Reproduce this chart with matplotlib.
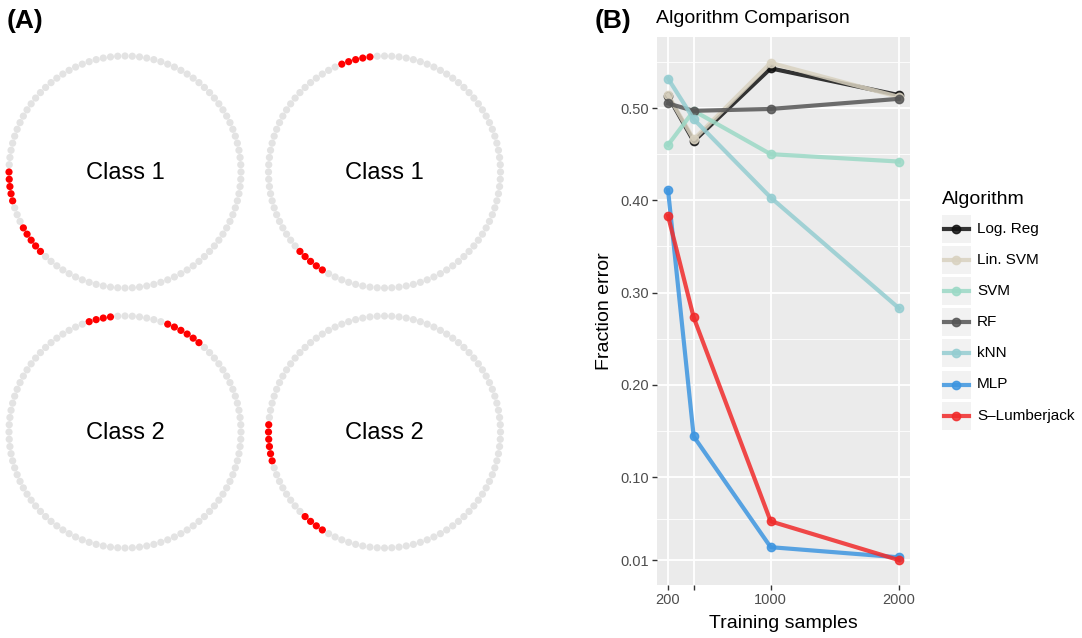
import numpy as np
import matplotlib
matplotlib.use("Agg")
import matplotlib.pyplot as plt
from matplotlib.lines import Line2D
from matplotlib.patches import Rectangle

plt.rcParams['font.family'] = ['Liberation Sans', 'DejaVu Sans']

# ---- panel A data: 100 points on a ring, red ones by index ----
n_dots = 100
class_labels = ['Class 1', 'Class 1', 'Class 2', 'Class 2']
red_idx = [
    list(range(50, 55)) + list(range(58, 63)),
    list(range(27, 32)) + list(range(62, 67)),
    list(range(14, 20)) + list(range(27, 31)),
    list(range(49, 55)) + list(range(63, 67)),
]

# ---- panel B data ----
samples = [200, 400, 1000, 2000]
algorithms = ['Log. Reg', 'Lin. SVM', 'SVM', 'RF', 'kNN', 'MLP', 'S\u2013Lumberjack']
err_logreg = [0.513, 0.464, 0.543, 0.514]
err_linsvm = [0.514, 0.466, 0.549, 0.512]
err_svm = [0.460, 0.497, 0.450, 0.442]
err_rf = [0.505, 0.497, 0.499, 0.510]
err_knn = [0.532, 0.488, 0.403, 0.283]
err_mlp = [0.411, 0.144, 0.024, 0.013]
err_lumber = [0.383, 0.273, 0.052, 0.010]
errors = [err_logreg, err_linsvm, err_svm, err_rf, err_knn, err_mlp, err_lumber]
colors = ['#111111', '#d9d2c0', '#9bd9c6', '#555555', '#94cdd1', '#3d95e0', '#f02a2a']
yticks = [0.01, 0.10, 0.20, 0.30, 0.40, 0.50]
ytick_labels = ['0.01', '0.10', '0.20', '0.30', '0.40', '0.50']
xtick_labels = ['200', '', '1000', '2000']

W, H = 1082, 638
fig = plt.figure(figsize=(W / 100, H / 100), dpi=100)

def px_axes(x0, y0, x1, y1):
    # pixel box (top-left origin) -> figure axes
    return fig.add_axes([x0 / W, 1 - y1 / H, (x1 - x0) / W, (y1 - y0) / H])

# ---------------- panel A ----------------
axA = px_axes(0, 0, 540, H)
axA.set_xlim(0, 540)
axA.set_ylim(H, 0)
axA.axis('off')
centres = [(125, 172), (384.5, 172), (125, 432), (384.5, 432)]
radius = 116
ang = np.deg2rad(np.arange(n_dots) * 360.0 / n_dots)
for (cx, cy), lab, reds in zip(centres, class_labels, red_idx):
    xs = cx + radius * np.cos(ang)
    ys = cy - radius * np.sin(ang)
    cols = ['#ff0000' if i in reds else '#e3e3e3' for i in range(n_dots)]
    axA.scatter(xs, ys, s=27, c=cols, linewidths=0)
    axA.text(cx, cy + 1, lab, ha='center', va='center', fontsize=17)

fig.text(7 / W, 1 - 21 / H, '(A)', fontsize=19, fontweight='bold', va='center')
fig.text(595 / W, 1 - 21 / H, '(B)', fontsize=19, fontweight='bold', va='center')

# ---------------- panel B ----------------
ax = px_axes(656.5, 37, 910.5, 585)
ax.set_facecolor('#ebebeb')
for s in ax.spines.values():
    s.set_visible(False)
ax.set_xlim(110, 2090)
ax.set_ylim(-0.017, 0.577)
ax.set_xticks(samples)
ax.set_xticklabels(xtick_labels)
ax.set_yticks(yticks)
ax.set_yticklabels(ytick_labels)
ax.set_yticks([0.055, 0.15, 0.25, 0.35, 0.45, 0.55], minor=True)
ax.grid(True, which='major', color='white', lw=1.3)
ax.grid(True, which='minor', axis='y', color='white', lw=0.6)
ax.tick_params(which='major', colors='#333333', length=3.5, width=1.0,
               labelsize=10.5, labelcolor='#4d4d4d', pad=2)
ax.tick_params(which='minor', length=0)
ax.set_axisbelow(True)
ax.set_xlabel('Training samples', fontsize=14, labelpad=6)
ax.set_ylabel('Fraction error', fontsize=14, labelpad=5)
ax.set_title('Algorithm Comparison', fontsize=14, loc='left', pad=10)

for name, vals, c in zip(algorithms, errors, colors):
    ax.plot(samples, vals, color=c, lw=3, alpha=0.85, marker='o', ms=6,
            solid_joinstyle='round', label=name)

# ggplot-like legend drawn in figure pixel space
axL = px_axes(935, 180, 1082, 440)
axL.set_xlim(935, 1082)
axL.set_ylim(440, 180)
axL.axis('off')
axL.text(942, 200, 'Algorithm', fontsize=14, va='center', ha='left')
for i, (name, c) in enumerate(zip(algorithms, colors)):
    yc = 229 + i * 31.1
    axL.add_patch(Rectangle((942, yc - 14), 29, 28, facecolor='#f2f2f2', edgecolor='none'))
    axL.add_line(Line2D([944, 969], [yc, yc], color=c, lw=3, alpha=0.85))
    axL.plot([956.5], [yc], 'o', color=c, ms=6, alpha=0.85)
    axL.text(977, yc, name, fontsize=11, va='center', ha='left')

fig.savefig('out.png', dpi=100)
